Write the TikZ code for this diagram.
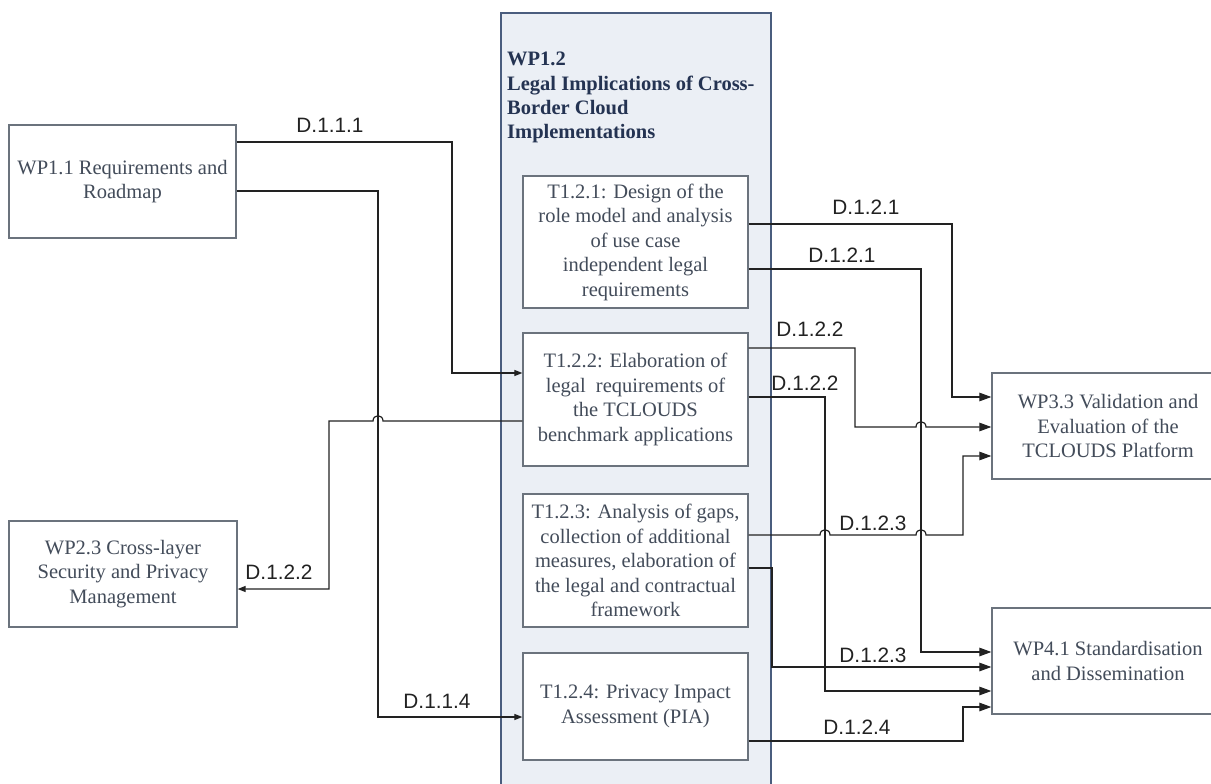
\documentclass[tikz,border=0pt]{standalone}
\usepackage{fontspec}
\setmainfont{Liberation Serif}
\newfontfamily\boxfont{Liberation Serif}
\newfontfamily\labfont{Liberation Sans}
\usetikzlibrary{arrows.meta}
\definecolor{contfill}{HTML}{EBEFF5}
\definecolor{contdraw}{HTML}{4A5D7E}
\definecolor{boxdraw}{HTML}{6B737D}
\definecolor{boxtext}{HTML}{434C5A}
\definecolor{titletext}{HTML}{243352}
\definecolor{linecol}{HTML}{222222}
\tikzset{
  wpbox/.style={draw=boxdraw, line width=1.3pt, fill=white, align=center, text=boxtext,
    font=\boxfont\fontsize{20.5}{24.5}\selectfont, inner sep=0pt},
  conn/.style={draw=linecol, line width=1.2pt},
  bigtip/.style={-{Triangle[length=12pt,width=8.5pt]}},
  smalltip/.style={-{Triangle[length=8pt,width=6pt]}},
  dlabel/.style={font=\labfont\fontsize{20.8}{23}\selectfont, text=linecol, inner sep=0pt}
}
\begin{document}
\begin{tikzpicture}[x=1pt,y=-1pt]
\useasboundingbox (0,0) rectangle (1211,784);
\clip (0,0) rectangle (1211,784);
\fill[white] (0,0) rectangle (1211,784);
% container
\node[draw=contdraw, fill=contfill, line width=1.3pt, minimum width=270pt, minimum height=787pt, inner sep=0pt] (wp12) at (636,406.5) {};
\node[anchor=north west, align=left, inner sep=0pt, text=titletext, font=\boxfont\bfseries\fontsize{20.5}{24.3}\selectfont] (wp12title) at (507,52) {WP1.2\\Legal Implications of Cross-\\Border Cloud\\Implementations};
% boxes
\node[wpbox, minimum width=227pt, minimum height=113pt] (wp11) at (122.5,181.5) {WP1.1 Requirements and\\Roadmap};
\node[wpbox, minimum width=228pt, minimum height=106pt] (wp23) at (123,574) {WP2.3 Cross-layer\\Security and Privacy\\Management};
\node[wpbox, minimum width=225pt, minimum height=132pt] (t121) at (635.5,242) {T1.2.1: Design of the\\role model and analysis\\of use case\\independent legal\\requirements};
\node[wpbox, minimum width=225pt, minimum height=133pt] (t122) at (635.5,399.5) {T1.2.2: Elaboration of\\legal\ \ requirements of\\the TCLOUDS\\benchmark applications};
\node[wpbox, minimum width=225pt, minimum height=133pt] (t123) at (635.5,560.5) {T1.2.3: Analysis of gaps,\\collection of additional\\measures, elaboration of\\the legal and contractual\\framework};
\node[wpbox, minimum width=225pt, minimum height=107pt] (t124) at (635.5,706.5) {T1.2.4: Privacy Impact\\Assessment (PIA)};
\node[wpbox, minimum width=232pt, minimum height=106pt] (wp33) at (1108,426) {WP3.3 Validation and\\Evaluation of the\\TCLOUDS Platform};
\node[wpbox, minimum width=232pt, minimum height=106pt] (wp41) at (1108,661) {WP4.1 Standardisation\\and Dissemination};
% connectors
\draw[conn, smalltip] (wp11.east |- 0,142) -- (452,142) -- (452,373) -- (t122.west |- 0,373);
\draw[conn, smalltip] (wp11.east |- 0,191) -- (378,191) -- (378,717) -- (t124.west |- 0,717);
\draw[conn, smalltip] (t122.west |- 0,421) -- (383,421) .. controls (383,414) and (373,414) .. (373,421) -- (329,421) -- (329,589) -- (wp23.east |- 0,589);
\draw[conn, bigtip] (t121.east |- 0,224) -- (952,224) -- (952,397) -- (wp33.west |- 0,397);
\draw[conn, bigtip] (t121.east |- 0,269) -- (921,269) -- (921,652) -- (wp41.west |- 0,652);
\draw[conn, bigtip] (t122.east |- 0,348) -- (855,348) -- (855,427) -- (916,427) .. controls (916,420) and (926,420) .. (926,427) -- (wp33.west |- 0,427);
\draw[conn, bigtip] (t122.east |- 0,397) -- (825,397) -- (825,691) -- (wp41.west |- 0,691);
\draw[conn, bigtip] (t123.east |- 0,535) -- (820,535) .. controls (820,528) and (830,528) .. (830,535) -- (916,535) .. controls (916,528) and (926,528) .. (926,535) -- (963,535) -- (963,456) -- (wp33.west |- 0,456);
\draw[conn, bigtip] (t123.east |- 0,568) -- (772,568) -- (772,667) -- (wp41.west |- 0,667);
\draw[conn, bigtip] (t124.east |- 0,741) -- (963,741) -- (963,707) -- (wp41.west |- 0,707);
% labels
\node[dlabel] (l111) at (330,125) {D.1.1.1};
\node[dlabel] (l114) at (437,701) {D.1.1.4};
\node[dlabel] (l122a) at (279,572) {D.1.2.2};
\node[dlabel] (l121a) at (866,207) {D.1.2.1};
\node[dlabel] (l121b) at (842,255) {D.1.2.1};
\node[dlabel] (l122b) at (810,329) {D.1.2.2};
\node[dlabel] (l122c) at (805,383) {D.1.2.2};
\node[dlabel] (l123a) at (873,523) {D.1.2.3};
\node[dlabel] (l123b) at (873,655) {D.1.2.3};
\node[dlabel] (l124) at (857,727) {D.1.2.4};
\end{tikzpicture}
\end{document}
